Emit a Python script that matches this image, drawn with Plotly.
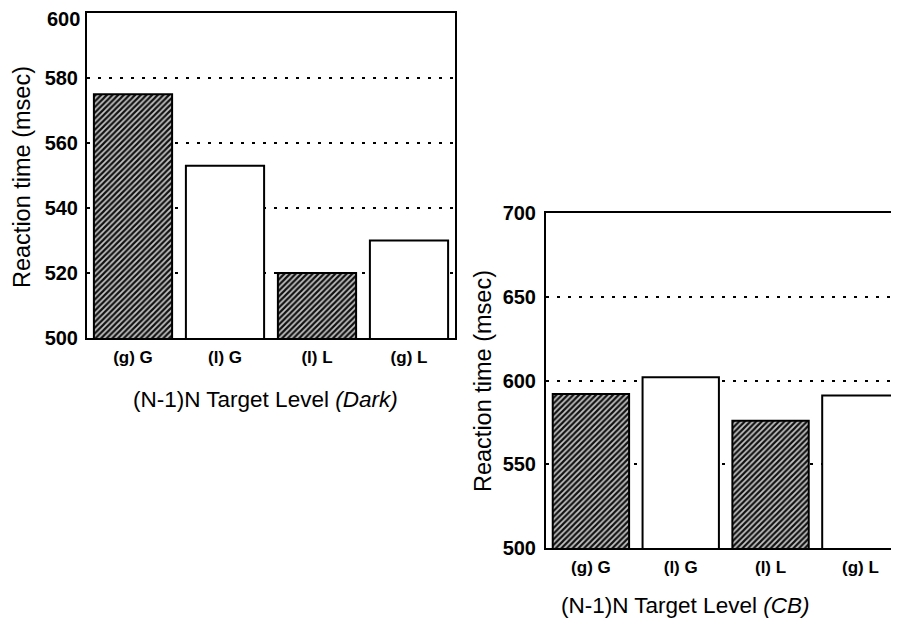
import plotly.graph_objects as go

categories = ["(g) G", "(l) G", "(l) L", "(g) L"]
dark_values = [575, 553, 520, 530]
cb_values = [592, 602, 576, 591]
patterns = ["/", "", "/", ""]
dark_ticks = [500, 520, 540, 560, 580, 600]
cb_ticks = [500, 550, 600, 650, 700]

W, H = 899, 621
OFF = 8  # page body margin
def px(x): return (x - OFF) / W
def py(y): return 1 - (y - OFF) / H

FONT = "Liberation Sans, Arial, sans-serif"

fig = go.Figure()
for vals, xa, ya in [(dark_values, "x", "y"), (cb_values, "x2", "y2")]:
    fig.add_trace(go.Bar(
        x=categories, y=vals, xaxis=xa, yaxis=ya,
        marker=dict(color="white", line=dict(color="black", width=2),
                    pattern=dict(shape=patterns, fgcolor="#111111", bgcolor="#c4c4c4",
                                 size=4, solidity=0.55, fillmode="replace")),
        showlegend=False, hoverinfo="skip"))

ax_common = dict(showline=True, linecolor="black", linewidth=2, mirror=True,
                 automargin=False, zeroline=False, ticklabeloverflow="allow")
yfont = dict(family=FONT, size=20, color="black", weight="bold")
xfont = dict(family=FONT, size=17, color="black", weight="bold")
grid = dict(showgrid=True, gridcolor="black", griddash="3px,8px", gridwidth=2)

# top tick label of the left chart is drawn as an annotation slightly lower to avoid clipping
dark_ticktext = [str(v) if v != dark_ticks[-1] else "" for v in dark_ticks]

fig.update_layout(
    width=W, height=H, margin=dict(l=0, r=0, t=0, b=0),
    paper_bgcolor="white", plot_bgcolor="white", bargap=0.15,
    xaxis=dict(domain=[px(87), px(455)], range=[-0.5, 3.5], anchor="y",
               showgrid=False, tickfont=xfont, ticks="outside", ticklen=3,
               tickcolor="white", **ax_common),
    yaxis=dict(domain=[py(338), py(13)], range=[500, 600], anchor="x",
               tickvals=dark_ticks, ticktext=dark_ticktext, **grid,
               tickfont=yfont, ticks="outside", ticklen=3, tickcolor="white", **ax_common),
    xaxis2=dict(domain=[px(546), px(899)], range=[-0.5, 3.43], anchor="y2",
                showgrid=False, tickfont=xfont, ticks="outside", ticklen=3,
                tickcolor="white", **ax_common),
    yaxis2=dict(domain=[py(548), py(213)], range=[500, 700], anchor="x2",
                tickvals=cb_ticks, **grid,
                tickfont=yfont, ticks="outside", ticklen=4, tickcolor="white", **ax_common),
)

fig.add_annotation(text=str(dark_ticks[-1]), x=px(81), y=py(19), xref="paper", yref="paper",
                   showarrow=False, font=yfont, xanchor="right", yanchor="middle", borderpad=0)

tfont = dict(family=FONT, size=23.5, color="black")
xtfont = dict(family=FONT, size=22.5, color="black")
fig.add_annotation(text="Reaction time (msec)", x=px(22), y=py(177), xref="paper", yref="paper",
                   textangle=-90, showarrow=False, font=tfont, xanchor="center", yanchor="middle")
fig.add_annotation(text="Reaction time (msec)", x=px(483), y=py(381), xref="paper", yref="paper",
                   textangle=-90, showarrow=False, font=tfont, xanchor="center", yanchor="middle")
fig.add_annotation(text="(N-1)N Target Level <i>(Dark)</i>", x=px(265), y=py(399), xref="paper",
                   yref="paper", showarrow=False, font=xtfont, xanchor="center", yanchor="middle")
fig.add_annotation(text="(N-1)N Target Level <i>(CB)</i>", x=px(685), y=py(605), xref="paper",
                   yref="paper", showarrow=False, font=xtfont, xanchor="center", yanchor="middle")

fig.write_html("out.html")
